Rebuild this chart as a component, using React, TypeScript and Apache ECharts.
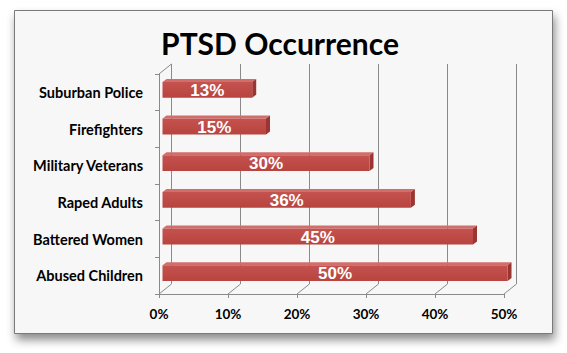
import React, { useEffect, useRef } from "react";
import * as echarts from "echarts";

const categories = [
  "Suburban Police",
  "Firefighters",
  "Military Veterans",
  "Raped Adults",
  "Battered Women",
  "Abused Children",
];
const values = [13, 15, 30, 36, 45, 50];
const xTicks = [0, 10, 20, 30, 40, 50];
const titleText = "PTSD Occurrence";

// 3D styling constants
const DX = 12.5;
const DY = -10;
const BAR_SX = 3.5;
const BAR_SY = -2.5;
const BAR_DX = 4;
const BAR_DY = -3;
const GRID_COLOR = "#8a8a8a";

export default function App() {
  const ref = useRef<HTMLDivElement>(null);
  useEffect(() => {
    if (!ref.current) return;
    const chart = echarts.init(ref.current, undefined, { renderer: "svg" });
    const option: any = {
      animation: false,
      backgroundColor: "#ffffff",
      graphic: [
        {
          type: "rect",
          z: -100,
          silent: true,
          shape: { x: 14.5, y: 10.5, width: 538, height: 323 },
          style: {
            fill: "#f7f7f7",
            stroke: "#7a7a7a",
            lineWidth: 1,
            shadowBlur: 10,
            shadowOffsetX: 2,
            shadowOffsetY: 6,
            shadowColor: "rgba(0,0,0,0.45)",
          },
        },
        {
          type: "text",
          z: 10,
          x: 280,
          y: 43,
          style: {
            text: titleText,
            fill: "#000000",
            font: "bold 30px Lato",
            textAlign: "center",
            textVerticalAlign: "middle",
          },
        },
      ],
      grid: { left: 159, top: 74, width: 345, height: 220, containLabel: false },
      xAxis: {
        type: "value",
        min: 0,
        max: 50,
        interval: 10,
        axisLine: { show: true, lineStyle: { color: GRID_COLOR, width: 1 } },
        axisTick: { show: true, length: 4, lineStyle: { color: GRID_COLOR } },
        splitLine: { show: false },
        axisLabel: {
          formatter: "{value}%",
          color: "#000000",
          fontFamily: "Lato",
          fontWeight: "bold",
          fontSize: 13.5,
          margin: 13,
        },
      },
      yAxis: {
        type: "category",
        inverse: true,
        data: categories,
        axisLine: { show: true, lineStyle: { color: GRID_COLOR, width: 1 } },
        axisTick: { show: true, length: 4, lineStyle: { color: GRID_COLOR } },
        splitLine: { show: false },
        axisLabel: {
          color: "#000000",
          fontFamily: "Lato",
          fontWeight: "bold",
          fontSize: 14.5,
          margin: 16,
        },
      },
      series: [
        {
          type: "custom",
          name: "walls",
          silent: true,
          z: 1,
          data: xTicks.map((v) => [v, 0]),
          renderItem: (params: any, api: any) => {
            const v = api.value(0);
            const cs = params.coordSys;
            const x = api.coord([v, 0])[0];
            const top = cs.y;
            const bot = cs.y + cs.height;
            const ls = { stroke: GRID_COLOR, lineWidth: 1, fill: "none" };
            const children: any[] = [
              {
                type: "line",
                shape: { x1: x + DX, y1: top + DY, x2: x + DX, y2: bot + DY },
                style: ls,
              },
              {
                type: "line",
                shape: { x1: x, y1: bot, x2: x + DX, y2: bot + DY },
                style: ls,
              },
            ];
            if (v === 0) {
              children.push({
                type: "line",
                shape: { x1: x, y1: top, x2: x + DX, y2: top + DY },
                style: ls,
              });
            }
            return { type: "group", children };
          },
        },
        {
          type: "custom",
          name: "PTSD",
          z: 3,
          data: values.map((v, i) => [v, i]),
          renderItem: (params: any, api: any) => {
            const v = api.value(0);
            const idx = api.value(1);
            const start = api.coord([0, idx]);
            const end = api.coord([v, idx]);
            const band = api.size([0, 1])[1];
            const h = band * 0.43;
            const x0 = start[0] + BAR_SX;
            const x1 = end[0] + BAR_SX;
            const yc = start[1] + BAR_SY;
            const t = yc - h / 2;
            const b = yc + h / 2;
            return {
              type: "group",
              children: [
                {
                  type: "polygon",
                  shape: {
                    points: [
                      [x0, t],
                      [x0 + BAR_DX, t + BAR_DY],
                      [x1 + BAR_DX, t + BAR_DY],
                      [x1, t],
                    ],
                  },
                  style: { fill: "#d26e6a" },
                },
                {
                  type: "polygon",
                  shape: {
                    points: [
                      [x1, t],
                      [x1 + BAR_DX, t + BAR_DY],
                      [x1 + BAR_DX, b + BAR_DY],
                      [x1, b],
                    ],
                  },
                  style: { fill: "#9a3532" },
                },
                {
                  type: "rect",
                  shape: { x: x0, y: t, width: x1 - x0, height: h },
                  style: {
                    fill: new echarts.graphic.LinearGradient(0, 0, 0, 1, [
                      { offset: 0, color: "#c4524e" },
                      { offset: 1, color: "#b8443f" },
                    ]),
                  },
                },
                {
                  type: "text",
                  x: (x0 + x1) / 2,
                  y: yc + 0.5,
                  style: {
                    text: v + "%",
                    fill: "#ffffff",
                    font: "bold 17px 'Liberation Sans', Arial",
                    textAlign: "center",
                    textVerticalAlign: "middle",
                  },
                },
              ],
            };
          },
        },
      ],
    };
    chart.setOption(option);
    return () => chart.dispose();
  }, []);
  return (
    <div
      ref={ref}
      style={{ position: "fixed", left: 0, top: 0, width: 567, height: 353 }}
    />
  );
}
